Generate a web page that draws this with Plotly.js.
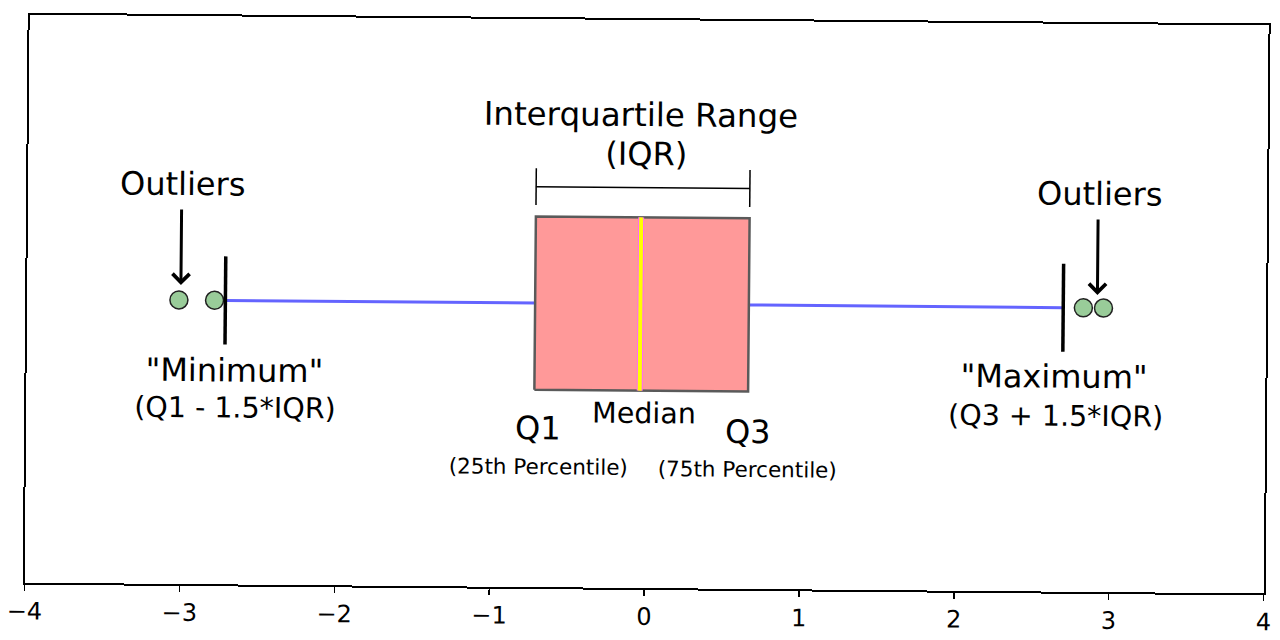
<!DOCTYPE html>
<html>
<head>
<meta charset="utf-8">
<script src="https://cdn.plot.ly/plotly-3.0.1.min.js"></script>
<style>
  html, body { margin: 0; padding: 0; background: #ffffff; overflow: hidden; }
  #chart { width: 1280px; height: 640px; transform: rotate(0.5deg); transform-origin: 640px 320px; }
</style>
</head>
<body>
<div id="chart"></div>
<script>
// ---- data ----
const boxStats = [-0.72, -0.04, 0.66];      // Q1, median, Q3
const whiskerEnds = [-2.72, 2.69];          // "Minimum", "Maximum"
const outliersLow = [-3.02, -2.79];
const outliersHigh = [2.82, 2.95];
const xTicks = [-4, -3, -2, -1, 0, 1, 2, 3, 4];

// ---- styling constants ----
const FONT = 'DejaVu Sans';
const boxHalf = 0.305;
const capHalf = 0.155;
const bracketY = 0.41;
const bracketTick = 0.065;

const q1 = boxStats[0], med = boxStats[1], q3 = boxStats[2];

const traces = [
  // whiskers
  {x: [whiskerEnds[0], q1, null, q3, whiskerEnds[1]], y: [0, 0, null, 0, 0],
   mode: 'lines', line: {color: '#6464ff', width: 3}, hoverinfo: 'skip'},
  // box
  {x: [q1, q3, q3, q1, q1], y: [-boxHalf, -boxHalf, boxHalf, boxHalf, -boxHalf],
   mode: 'lines', fill: 'toself', fillcolor: '#ff9999',
   line: {color: '#5a5a5a', width: 2.5}, hoverinfo: 'skip'},
  // median (magenta edge + yellow)
  {x: [med, med], y: [-boxHalf, boxHalf], mode: 'lines',
   line: {color: '#ff66ff', width: 6}, hoverinfo: 'skip'},
  {x: [med, med], y: [-boxHalf, boxHalf], mode: 'lines',
   line: {color: '#ffff00', width: 4}, hoverinfo: 'skip'},
  // outliers
  {x: outliersLow.concat(outliersHigh), y: outliersLow.concat(outliersHigh).map(() => 0),
   mode: 'markers', marker: {size: 18, color: '#99cc99', line: {color: '#222222', width: 1.5}},
   hoverinfo: 'skip'},
  // whisker caps
  {x: [whiskerEnds[0], whiskerEnds[0], null, whiskerEnds[1], whiskerEnds[1]],
   y: [-capHalf, capHalf, null, -capHalf, capHalf],
   mode: 'lines', line: {color: '#000000', width: 3.5}, hoverinfo: 'skip'},
  // IQR bracket
  {x: [q1, q3, null, q1, q1, null, q3, q3],
   y: [bracketY, bracketY, null, bracketY - bracketTick, bracketY + bracketTick, null, bracketY - bracketTick, bracketY + bracketTick],
   mode: 'lines', line: {color: '#000000', width: 1.5}, hoverinfo: 'skip'}
];

function label(text, x, y, size) {
  return {text: text, x: x, y: y, xref: 'x', yref: 'y', showarrow: false,
          xanchor: 'center', yanchor: 'middle',
          font: {family: FONT, size: size, color: '#000000'}};
}
function arrow(x, yTip, yTail) {
  return {text: '', x: x, y: yTip, ax: x, ay: yTail, xref: 'x', yref: 'y',
          axref: 'x', ayref: 'y', showarrow: true, arrowhead: 4, arrowsize: 1.1,
          arrowwidth: 3, arrowcolor: '#000000', standoff: 0, startstandoff: 0};
}

const annotations = [
  label('Interquartile Range', -0.047, 0.666, 32.5),
  label('(IQR)', -0.011, 0.528, 32),
  label('Outliers', -3.0, 0.407, 32),
  label('Outliers', 2.917, 0.401, 32),
  label('"Minimum"', -2.658, -0.248, 32),
  label('(Q1 - 1.5*IQR)', -2.655, -0.378, 28.5),
  label('"Maximum"', 2.637, -0.244, 32),
  label('(Q3 + 1.5*IQR)', 2.649, -0.381, 28.5),
  label('Median', -0.011, -0.384, 28.5),
  label('Q1', -0.693, -0.44, 32),
  label('Q3', 0.659, -0.446, 32),
  label('(25th Percentile)', -0.689, -0.577, 21.5),
  label('(75th Percentile)', 0.660, -0.578, 21.5),
  arrow(-3.008, 0.053, 0.324),
  arrow(2.91, 0.046, 0.317)
];

const layout = {
  width: 1280, height: 640,
  margin: {l: 27, r: 14, t: 20, b: 52},
  paper_bgcolor: '#ffffff', plot_bgcolor: '#ffffff',
  showlegend: false,
  xaxis: {range: [-4, 4], tickvals: xTicks, ticks: 'outside', ticklen: 6, tickwidth: 1.5,
          tickcolor: '#000000', showline: true, linecolor: '#000000', linewidth: 2,
          mirror: true, showgrid: false, zeroline: false,
          tickfont: {family: FONT, size: 24, color: '#000000'}},
  yaxis: {range: [-1, 1], showline: true, linecolor: '#000000', linewidth: 2,
          mirror: true, ticks: '', showticklabels: false, showgrid: false, zeroline: false},
  annotations: annotations
};

Plotly.newPlot('chart', traces, layout, {displayModeBar: false, staticPlot: true});
</script>
</body>
</html>
